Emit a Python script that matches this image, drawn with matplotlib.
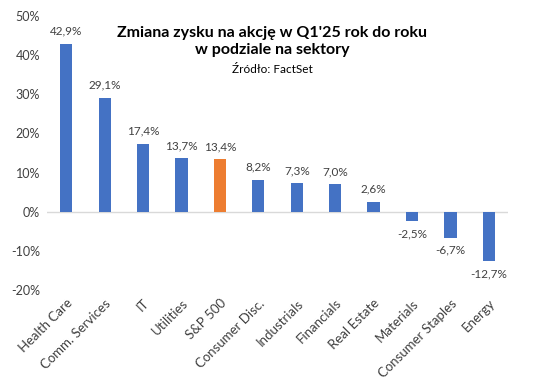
import matplotlib
matplotlib.use("Agg")
import matplotlib.pyplot as plt
from matplotlib.ticker import FuncFormatter

categories = ["Health Care", "Comm. Services", "IT", "Utilities", "S&P 500",
              "Consumer Disc.", "Industrials", "Financials", "Real Estate",
              "Materials", "Consumer Staples", "Energy"]
values = [42.9, 29.1, 17.4, 13.7, 13.4, 8.2, 7.3, 7.0, 2.6, -2.5, -6.7, -12.7]
highlight = "S&P 500"
yticks = [-20, -10, 0, 10, 20, 30, 40, 50]

plt.rcParams['font.family'] = ['Lato', 'DejaVu Sans']

fig = plt.figure(figsize=(5.41, 3.88), dpi=100)
ax = fig.add_axes([0.087, 0.2526, 0.852, 0.7064])

colors = ["#ED7D31" if c == highlight else "#4472C4" for c in categories]
x = list(range(len(categories)))
ax.bar(x, values, width=0.32, color=colors, zorder=3)

ax.set_ylim(-20, 50)
ax.set_xlim(-0.5, len(categories) - 0.5)
ax.set_yticks(yticks)
ax.yaxis.set_major_formatter(FuncFormatter(lambda v, p: f"{int(v)}%"))
ax.axhline(0, color="#D9D9D9", lw=1, zorder=2)
for s in ax.spines.values():
    s.set_visible(False)
ax.tick_params(axis="y", length=0, labelsize=9, colors="#404040", pad=5)
ax.tick_params(axis="x", length=0, labelsize=9.5, colors="#404040", pad=5)
ax.set_xticks(x)
ax.set_xticklabels(categories, rotation=45, ha="right", rotation_mode="anchor")

for xi, v in zip(x, values):
    lbl = f"{v:.1f}".replace(".", ",") + "%"
    if v >= 0:
        ax.annotate(lbl, (xi, v), xytext=(0, 5), textcoords="offset points",
                    ha="center", va="bottom", fontsize=8.5, color="#404040")
    else:
        ax.annotate(lbl, (xi, v), xytext=(0, -5), textcoords="offset points",
                    ha="center", va="top", fontsize=8.5, color="#404040")

fig.text(0.503, 0.893, "Zmiana zysku na akcję w Q1'25 rok do roku\nw podziale na sektory",
         ha="center", va="center", fontsize=11.5, fontweight="bold", color="black",
         linespacing=1.3)
fig.text(0.503, 0.82, "Źródło: FactSet", ha="center", va="center", fontsize=8.5, color="black")

fig.savefig("out.png", dpi=100)
